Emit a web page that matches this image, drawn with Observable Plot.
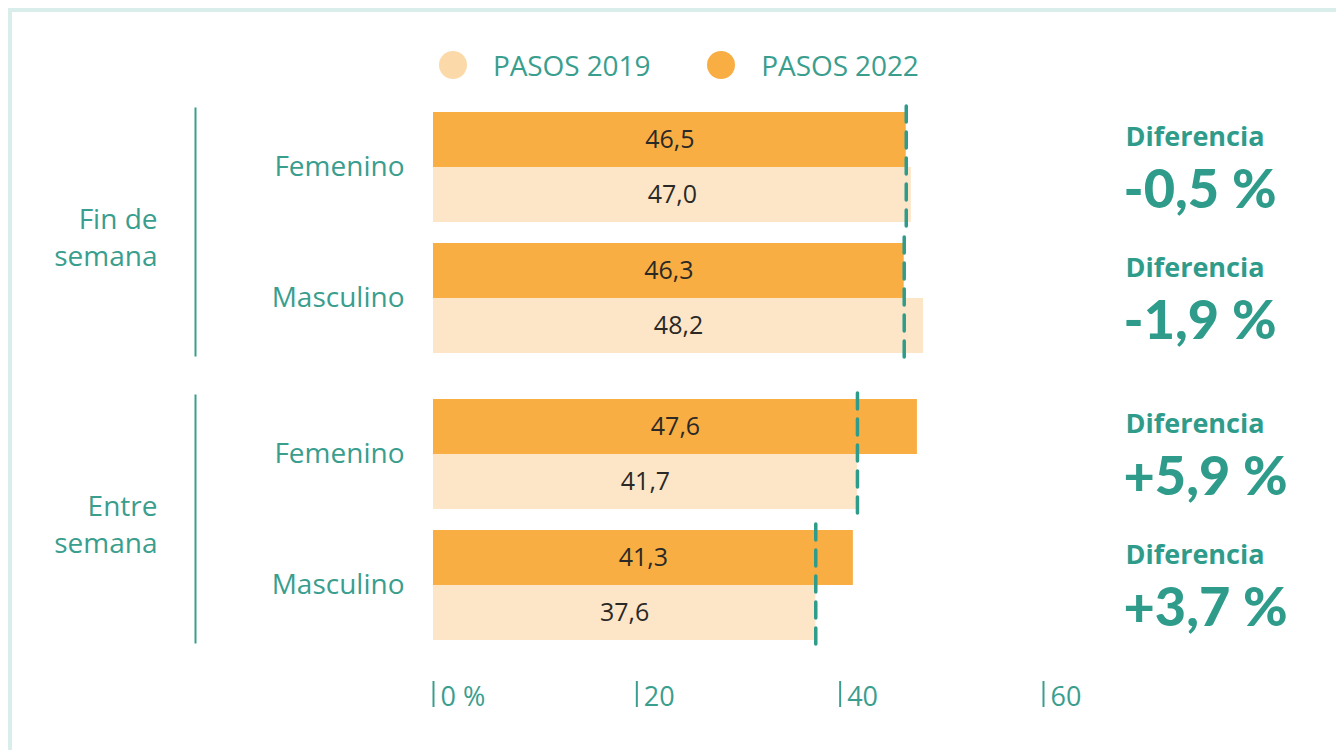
<!DOCTYPE html>
<html>
<head>
<meta charset="utf-8">
<script src="https://cdn.jsdelivr.net/npm/d3@7"></script>
<script src="https://cdn.jsdelivr.net/npm/@observablehq/plot@0.6"></script>
<style>
  html, body { margin: 0; padding: 0; background: #ffffff; }
  body { width: 1336px; height: 750px; position: relative; overflow: hidden; font-family: "Open Sans", sans-serif; }
  #frame { position: absolute; left: 8px; top: 8px; right: -10px; bottom: -10px; border-left: 4px solid #d9eeea; border-top: 4px solid #d9eeea; }
  #legend { position: absolute; left: 439px; top: 47px; display: flex; align-items: center; height: 36px; }
  .item { display: flex; align-items: center; margin-right: 57px; }
  .dot { width: 28px; height: 28px; border-radius: 50%; margin-right: 26px; }
  .lab { font-size: 28px; color: #3a9e8e; letter-spacing: -0.1px; }
  #chart { position: absolute; left: 0; top: 95px; }
</style>
</head>
<body>
<div id="frame"></div>
<div id="legend"></div>
<div id="chart"></div>
<script>
// ---- data ----
const groups = ["Fin de semana", "Entre semana"];
const groupLabels = ["Fin de\nsemana", "Entre\nsemana"];
const genders = ["Femenino", "Masculino"];
const years = ["PASOS 2019", "PASOS 2022"];
const values2019 = [47.0, 48.2, 41.7, 37.6];
const values2022 = [46.5, 46.3, 47.6, 41.3];
const diffs = [-0.5, -1.9, 5.9, 3.7];
const xTicks = [0, 20, 40, 60];

// ---- colours ----
const teal = "#3a9e8e";
const tealDark = "#2f9c8b";
const c2019 = "#fde6c8";
const c2022 = "#f9ae44";
const legendColors = ["#fbd9a9", "#f9ae44"];

// ---- layout ----
const W = 1336, H = 655, mTop = 17, mBottom = 109;
const fyPad = 0.16, yPad = 0.163;
const facetBW = (H - mTop - mBottom) * (1 - fyPad) / (2 - fyPad);
const bw = facetBW * (1 - yPad) / (2 - yPad);
const half = bw / 2;

const fmt = v => v.toFixed(1).replace(".", ",");
const fmtDiff = v => (v > 0 ? "+" : "-") + Math.abs(v).toFixed(1).replace(".", ",") + " %";

const rows = values2019.map((v, i) => ({
  group: groups[Math.floor(i / 2)],
  gender: genders[i % 2],
  v2019: v,
  v2022: values2022[i],
  diff: diffs[i]
}));
const groupRows = groups.map((g, i) => ({group: g, label: groupLabels[i]}));

// legend
const legend = document.getElementById("legend");
years.forEach((y, i) => {
  const it = document.createElement("div");
  it.className = "item";
  it.innerHTML = `<span class="dot" style="background:${legendColors[i]}"></span><span class="lab">${y}</span>`;
  legend.appendChild(it);
});

const chart = Plot.plot({
  width: W,
  height: H,
  marginLeft: 433,
  marginRight: 293,
  marginTop: mTop,
  marginBottom: mBottom,
  style: {fontFamily: "'Open Sans', sans-serif", fontSize: "27px", color: teal, background: "transparent", overflow: "visible"},
  x: {domain: [0, 60], axis: null},
  y: {domain: genders, paddingInner: yPad, paddingOuter: 0, axis: null},
  fy: {domain: groups, paddingInner: fyPad, paddingOuter: 0, axis: null},
  marks: [
    Plot.barX(rows, {fy: "group", y: "gender", x: "v2022", fill: c2022, insetBottom: half}),
    Plot.barX(rows, {fy: "group", y: "gender", x: "v2019", fill: c2019, insetTop: half}),
    Plot.tickX(rows, {fy: "group", y: "gender", x: d => Math.min(d.v2019, d.v2022), stroke: tealDark, strokeWidth: 3.5, strokeDasharray: "16,10", strokeLinecap: "round", insetTop: -6, insetBottom: -4}),
    Plot.text(rows, {fy: "group", y: "gender", x: d => d.v2022 / 2, text: d => fmt(d.v2022), dy: -half / 2, fill: "#2b2926", fontSize: 25}),
    Plot.text(rows, {fy: "group", y: "gender", x: d => d.v2019 / 2, text: d => fmt(d.v2019), dy: half / 2, fill: "#2b2926", fontSize: 25}),
    Plot.axisY({tickSize: 0, tickPadding: 29, fontSize: 28, fill: teal, label: null}),
    Plot.text(groupRows, {fy: "group", text: "label", frameAnchor: "left", dx: -276, dy: 3, textAnchor: "end", fontSize: 28, lineHeight: 1.32, fill: teal}),
    Plot.frame({anchor: "left", dx: -238, stroke: teal, strokeWidth: 2, insetTop: -4, insetBottom: -2}),
    Plot.text(rows, {fy: "group", y: "gender", text: () => "Diferencia", frameAnchor: "right", dx: 82, dy: -30, textAnchor: "start", fontWeight: 700, fontSize: 27, fill: tealDark}),
    Plot.text(rows, {fy: "group", y: "gender", text: d => fmtDiff(d.diff), frameAnchor: "right", dx: 80, dy: 23, textAnchor: "start", fontWeight: 900, fontSize: 54, fontFamily: "Lato", fill: tealDark}),
    Plot.axisX({ticks: xTicks, tickSize: 26, dy: 41, tickFormat: () => "", stroke: teal, strokeWidth: 2, label: null}),
    Plot.axisX({ticks: xTicks, tickSize: 0, tickPadding: 0, dy: 46, dx: 7, textAnchor: "start", fontSize: 27, fill: teal, label: null, tickFormat: d => d === 0 ? "0 %" : String(d)})
  ]
});
document.getElementById("chart").appendChild(chart);
</script>
</body>
</html>
